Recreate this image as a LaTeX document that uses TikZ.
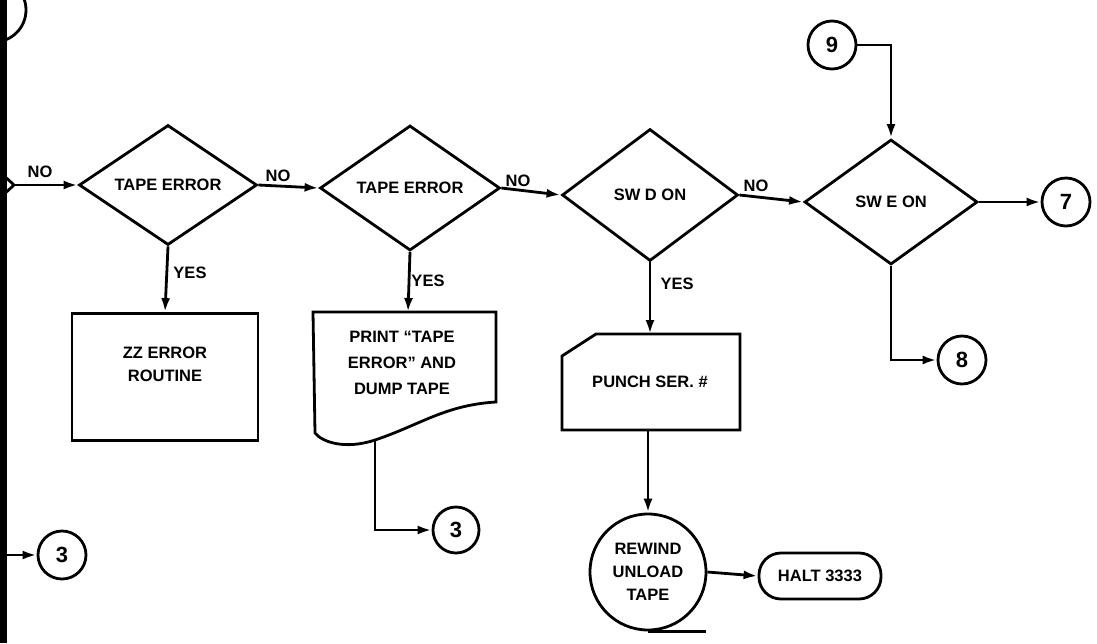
\documentclass[tikz,border=0pt]{standalone}
\usepackage{fontspec}
\setmainfont{Liberation Sans}
\usetikzlibrary{shapes.geometric,arrows.meta}
\begin{document}
\begin{tikzpicture}[x=1pt,y=-1pt,line width=2.8pt,
  txt/.style={font=\bfseries\fontsize{16.5}{24}\selectfont,align=center,inner sep=0pt},
  lbl/.style={font=\bfseries\fontsize{16.5}{18}\selectfont,inner sep=0pt},
  dec/.style={draw,diamond,inner sep=0pt,font=\bfseries\fontsize{16.5}{18}\selectfont},
  conn/.style={draw,circle,minimum size=48pt,inner sep=0pt,font=\bfseries\fontsize{22}{24}\selectfont},
  arr/.style={-{Latex[length=14pt,width=9pt]}}
]
\useasboundingbox (0,0) rectangle (1097,643);
% left border and partial shapes
\draw[line width=7pt] (3,0) -- (3,643);
\draw (-6,10) circle (32);
\coordinate (tipin) at (14,185);
\draw (0,172) -- (tipin) -- (0,198);
\coordinate (bord3) at (6,555);

% decisions
\node[dec,minimum width=178pt,minimum height=120pt] (d1) at (168,185) {TAPE ERROR};
\node[dec,minimum width=180pt,minimum height=125pt] (d2) at (410,188) {TAPE ERROR};
\node[dec,minimum width=176pt,minimum height=132pt] (d3) at (650,195) {SW D ON};
\node[dec,minimum width=173pt,minimum height=125pt] (d4) at (891,202) {SW E ON};

% process box
\node[draw,minimum width=186pt,minimum height=127pt,inner sep=0pt] (b1) at (165,377) {};
\node[txt,font=\bfseries\fontsize{16.5}{23}\selectfont] (b1t) at (165,364) {ZZ ERROR\\ROUTINE};

% document shape
\coordinate (doctop) at (408,312);
\coordinate (docb) at (375,440);
\draw (313,312) -- (496,312) -- (496,402)
  .. controls (445,405) and (420,425) .. (docb)
  .. controls (345,450) and (322,442) .. (315,433) -- cycle;
\node[txt,font=\bfseries\fontsize{16.5}{26}\selectfont] (doct) at (402,363) {PRINT ``TAPE\\ERROR'' AND\\DUMP TAPE};

% card shape
\coordinate (cardtop) at (650,334);
\coordinate (cardb) at (648,430);
\draw (562,356) -- (596,334) -- (740,334) -- (740,430) -- (562,430) -- cycle;
\node[txt] (cardt) at (650,382) {PUNCH SER. \#};

% tape
\node[draw,circle,minimum size=116pt,inner sep=0pt,txt,font=\bfseries\fontsize{16.5}{23}\selectfont] (tape) at (648,572) {REWIND\\UNLOAD\\TAPE};
\draw (tape.south) -- ++(58,0);

% terminal
\node[draw,rounded corners=22pt,minimum width=122pt,minimum height=46pt,inner sep=0pt,lbl] (halt) at (820,576) {HALT 3333};

% connectors
\node[conn] (c9) at (832,45) {9};
\node[conn] (c7) at (1066,202) {7};
\node[conn] (c8) at (962,360) {8};
\node[conn] (c3a) at (62,555) {3};
\node[conn,minimum size=46pt] (c3b) at (456,530) {3};

% flow lines
\draw[arr] (tipin) -- (d1.west);
\draw[arr] (d1.east) -- (d2.west);
\draw[arr] (d2.east) -- (d3.west);
\draw[arr] (d3.east) -- (d4.west);
\draw[arr] (d4.east) -- (c7.west);
\draw[arr] (c9.east) -| (d4.north);
\draw[arr] (d4.south) |- (c8.west);
\draw[arr] (d1.south) -- (b1.north);
\draw[arr] (d2.south) -- (doctop);
\draw[arr] (d3.south) -- (cardtop);
\draw[arr] (cardb) -- (tape.north);
\draw[arr] (tape.east) -- (halt.west);
\draw[arr] (docb) |- (c3b.west);
\draw[arr] (bord3) -- (c3a.west);

% labels
\node[lbl] (n1) at (40,172) {NO};
\node[lbl] (n2) at (278,176) {NO};
\node[lbl] (n3) at (518,181) {NO};
\node[lbl] (n4) at (756,186) {NO};
\node[lbl] (y1) at (190,273) {YES};
\node[lbl] (y2) at (428,281) {YES};
\node[lbl] (y3) at (677,284) {YES};
\end{tikzpicture}
\end{document}
